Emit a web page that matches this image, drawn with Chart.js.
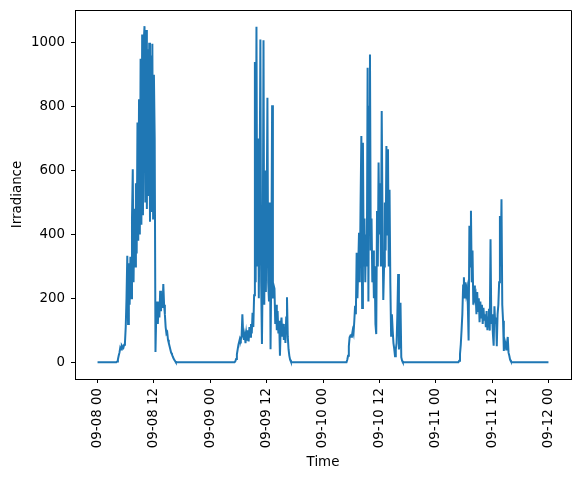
<!DOCTYPE html>
<html>
<head>
<meta charset="utf-8">
<script src="https://cdn.jsdelivr.net/npm/chart.js@4/dist/chart.umd.min.js"></script>
<style>
  html, body { margin: 0; padding: 0; background: #fff; }
  #wrap { width: 580px; height: 481px; }
</style>
</head>
<body>
<div id="wrap"><canvas id="irr" width="580" height="481"></canvas></div>
<script>
// readings every 10 minutes, daylight only (nights are 0)
const sampleStep = 1 / 6; // hours between readings
const dayStarts = [4, 5, 5, 4 + 5 / 6]; // hour of first reading of each day

const day1 = [0, 2, 8, 20, 30, 45, 40, 52, 48, 45, 55, 60,
  110, 200, 333, 120, 310, 180, 330, 200, 450, 604, 250, 480,
  300, 560, 340, 750, 380, 823, 400, 950, 430, 1026, 460, 1000,
  1052, 500, 1040, 480, 980, 520, 1000, 440, 960, 470, 997, 450,
  900, 700, 32, 150, 190, 120, 180, 140, 224, 160, 200, 170,
  245, 180, 150, 110, 90, 94, 70, 60, 50, 40, 30, 25,
  18, 12, 8, 4, 0];

const day2 = [0, 0, 3, 10, 25, 40, 55, 65, 75, 70, 80, 150,
  90, 70, 85, 60, 90, 70, 100, 65, 110, 80, 120, 90,
  155, 110, 210, 940, 250, 1050, 300, 700, 200, 500, 1010, 250,
  57, 300, 1008, 180, 600, 220, 450, 828, 250, 190, 500, 41,
  300, 804, 200, 240, 230, 120, 180, 100, 160, 90, 130, 20,
  110, 140, 80, 120, 70, 110, 60, 140, 203, 80, 40, 20,
  8, 2, 0];

const day3 = [0, 8, 20, 50, 78, 83, 80, 85, 100, 90, 130, 177,
  150, 343, 200, 300, 405, 250, 500, 708, 170, 687, 300, 450,
  250, 400, 300, 922, 190, 800, 963, 350, 450, 250, 350, 200,
  300, 120, 88, 473, 300, 625, 400, 560, 300, 786, 450, 195,
  300, 500, 350, 677, 400, 667, 300, 540, 250, 83, 150, 100,
  60, 42, 19, 40, 60, 150, 276, 40, 60, 186, 16, 5, 0];

const day4 = [0, 5, 25, 55, 100, 150, 240, 266, 200, 250, 215, 230,
  180, 68, 427, 300, 474, 250, 350, 180, 240, 200, 210, 150,
  220, 160, 200, 125, 190, 140, 180, 120, 170, 130, 150, 110,
  160, 100, 140, 167, 99, 385, 120, 150, 90, 52, 175, 120,
  140, 50, 150, 180, 250, 458, 300, 510, 180, 130, 35, 70,
  60, 40, 60, 79, 30, 20, 8, 3, 0];

const days = [day1, day2, day3, day4];

const xTicks = [0, 12, 24, 36, 48, 60, 72, 84, 96];
const xTickLabels = ["09-08 00", "09-08 12", "09-09 00", "09-09 12", "09-10 00",
  "09-10 12", "09-11 00", "09-11 12", "09-12 00"];
const yTicks = [0, 200, 400, 600, 800, 1000];

// build the points, hours since 09-08 00
const points = [{ x: 0, y: 0 }];
days.forEach(function (vals, d) {
    vals.forEach(function (v, i) {
        points.push({ x: d * 24 + dayStarts[d] + i * sampleStep, y: v });
    });
});
points.push({ x: 96, y: 0 });

const font = { family: "'DejaVu Sans', sans-serif", size: 13.4 };

// matplotlib style box: top and right spines
const frame = {
    id: 'frame',
    afterDraw(chart) {
        const a = chart.chartArea, ctx = chart.ctx;
        ctx.save();
        ctx.strokeStyle = '#000';
        ctx.lineWidth = 1;
        ctx.beginPath();
        ctx.moveTo(a.left, a.top + 0.5);
        ctx.lineTo(a.right + 0.5, a.top + 0.5);
        ctx.lineTo(a.right + 0.5, a.bottom);
        ctx.stroke();
        ctx.restore();
    }
};

new Chart(document.getElementById('irr'), {
    type: 'line',
    data: {
        datasets: [{
            data: points,
            borderColor: '#1f77b4',
            borderWidth: 2,
            pointRadius: 0,
            tension: 0,
            fill: false
        }]
    },
    options: {
        responsive: false,
        animation: false,
        devicePixelRatio: 1,
        parsing: false,
        layout: { padding: { top: 10, right: 9, left: 0, bottom: 0 } },
        plugins: { legend: { display: false }, tooltip: { enabled: false } },
        scales: {
            x: {
                type: 'linear',
                min: -4.8,
                max: 100.8,
                afterBuildTicks(scale) { scale.ticks = xTicks.map(v => ({ value: v })); },
                afterFit(scale) { scale.height = 102; scale.paddingLeft = 0; scale.paddingRight = 0; },
                ticks: {
                    color: '#000',
                    font: font,
                    minRotation: 90,
                    maxRotation: 90,
                    padding: 5,
                    autoSkip: false,
                    callback: function (v) {
                        const k = xTicks.indexOf(v);
                        return k >= 0 ? xTickLabels[k] : '';
                    }
                },
                grid: { display: true, drawOnChartArea: false, drawTicks: true, tickLength: 4, color: '#000' },
                border: { display: true, color: '#000', width: 1 },
                title: { display: true, text: 'Time', color: '#000', font: font, padding: { top: 0, bottom: 10 } }
            },
            y: {
                type: 'linear',
                min: -52.5,
                max: 1102.5,
                afterBuildTicks(scale) { scale.ticks = yTicks.map(v => ({ value: v })); },
                afterFit(scale) { scale.width = 75; scale.paddingTop = 0; scale.paddingBottom = 0; },
                ticks: { color: '#000', font: font, padding: 6, callback: v => String(v) },
                grid: { display: true, drawOnChartArea: false, drawTicks: true, tickLength: 4, color: '#000' },
                border: { display: true, color: '#000', width: 1 },
                title: { display: true, text: 'Irradiance', color: '#000', font: font, padding: { top: 9, bottom: 0 } }
            }
        }
    },
    plugins: [frame]
});
</script>
</body>
</html>
